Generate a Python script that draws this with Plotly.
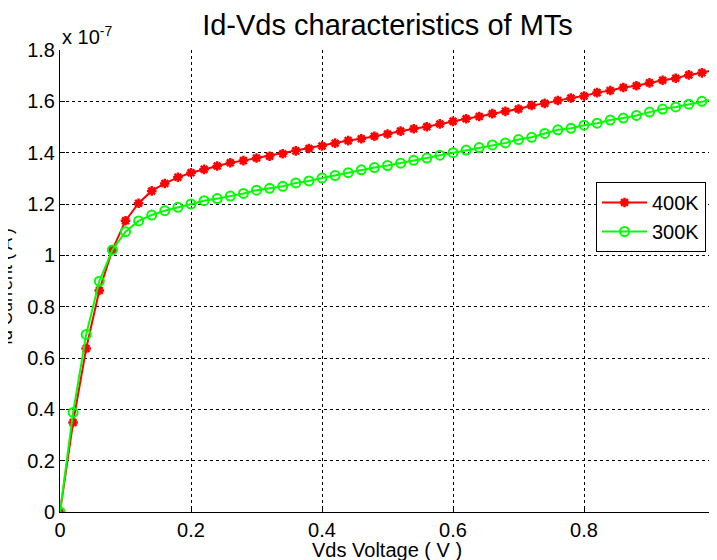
import plotly.graph_objects as go

vds = [round(i * 0.02, 2) for i in range(51)]

id_400k = [0.0, 0.349, 0.637, 0.863, 1.021, 1.135, 1.203, 1.251, 1.280, 1.304,
           1.322, 1.335, 1.348, 1.361, 1.369, 1.379, 1.386, 1.396, 1.407, 1.416,
           1.426, 1.437, 1.447, 1.454, 1.464, 1.473, 1.484, 1.493, 1.501, 1.512,
           1.522, 1.532, 1.541, 1.552, 1.561, 1.570, 1.584, 1.592, 1.603, 1.613,
           1.621, 1.634, 1.642, 1.654, 1.661, 1.672, 1.682, 1.690, 1.703, 1.711,
           1.724]

id_300k = [0.0, 0.388, 0.692, 0.899, 1.021, 1.092, 1.134, 1.157, 1.174, 1.187,
           1.200, 1.213, 1.221, 1.231, 1.241, 1.254, 1.261, 1.269, 1.282, 1.290,
           1.301, 1.311, 1.322, 1.333, 1.342, 1.350, 1.359, 1.370, 1.379, 1.390,
           1.400, 1.410, 1.420, 1.430, 1.438, 1.451, 1.460, 1.475, 1.489, 1.495,
           1.507, 1.515, 1.527, 1.535, 1.545, 1.558, 1.570, 1.578, 1.589, 1.600,
           1.609]

scale = 1e-7
y_ticks = [0, 0.2, 0.4, 0.6, 0.8, 1.0, 1.2, 1.4, 1.6, 1.8]
y_tick_labels = ["0", "0.2", "0.4", "0.6", "0.8", "1", "1.2", "1.4", "1.6", "1.8"]
x_ticks = [0, 0.2, 0.4, 0.6, 0.8, 1.0]
x_tick_labels = ["0", "0.2", "0.4", "0.6", "0.8", "1"]

FONT = "Liberation Sans, Arial, sans-serif"

# page body has an 8px default margin; compensate so the window matches
OFF = 8
W, H = 717 - OFF, 560 - OFF
L, T = 60 - OFF, 50 - OFF
PW, PH = 655, 462
R = W - L - PW
B = H - T - PH

fig = go.Figure()
fig.add_trace(go.Scatter(
    x=vds, y=[v * scale for v in id_400k], name="400K",
    mode="lines+markers",
    line=dict(color="#ff0000", width=2),
    marker=dict(symbol="asterisk-open", size=8, color="#ff0000",
                line=dict(color="#ff0000", width=2.5)),
))
fig.add_trace(go.Scatter(
    x=vds, y=[v * scale for v in id_300k], name="300K",
    mode="lines+markers",
    line=dict(color="#00ff00", width=2),
    marker=dict(symbol="circle-open", size=9, color="#00ff00",
                line=dict(color="#00ff00", width=2)),
))

fig.update_layout(
    width=W, height=H,
    margin=dict(l=L, r=R, t=T, b=B, autoexpand=False),
    paper_bgcolor="white", plot_bgcolor="white",
    font=dict(family=FONT, size=20, color="black"),
    title=dict(text="Id-Vds characteristics of MTs",
               x=(L + PW / 2) / W, xanchor="center",
               y=1 - (25 - OFF) / H, yanchor="middle",
               font=dict(size=29, family=FONT)),
    showlegend=True,
    legend=dict(x=(706 - 60) / PW, xanchor="right",
                y=(512 - 182) / PH, yanchor="top",
                bgcolor="white", bordercolor="black", borderwidth=1,
                font=dict(size=20, family=FONT), tracegroupgap=0,
                itemwidth=45),
    xaxis=dict(range=[0, 1], tickvals=x_ticks, ticktext=x_tick_labels,
               showgrid=True, gridcolor="black", griddash="dot", gridwidth=1,
               showline=True, linecolor="black", linewidth=1,
               ticks="inside", ticklen=5, tickcolor="black",
               ticklabeloverflow="allow",
               zeroline=False, automargin=False),
    yaxis=dict(range=[0, 1.8e-7], tickvals=[t * scale for t in y_ticks],
               ticktext=y_tick_labels,
               showgrid=True, gridcolor="black", griddash="dot", gridwidth=1,
               showline=True, linecolor="black", linewidth=1,
               ticks="inside", ticklen=5, tickcolor="black",
               zeroline=False, automargin=False),
    annotations=[
        dict(text="x 10<sup>-7</sup>", xref="paper", yref="paper",
             x=0, y=1, xanchor="left", yanchor="bottom", showarrow=False,
             font=dict(size=20, family=FONT)),
        dict(text="Vds Voltage ( V )", xref="paper", yref="paper",
             x=(387 - 60) / PW, y=-(550 - 512) / PH,
             xanchor="center", yanchor="middle", showarrow=False,
             font=dict(size=20, family=FONT)),
        dict(text="Id Current ( A )", xref="paper", yref="paper",
             x=-(60 - 6) / PW, y=(512 - 287) / PH,
             xanchor="center", yanchor="middle",
             textangle=-90, showarrow=False,
             font=dict(size=18, family=FONT)),
    ],
)

fig.write_html("out.html")
